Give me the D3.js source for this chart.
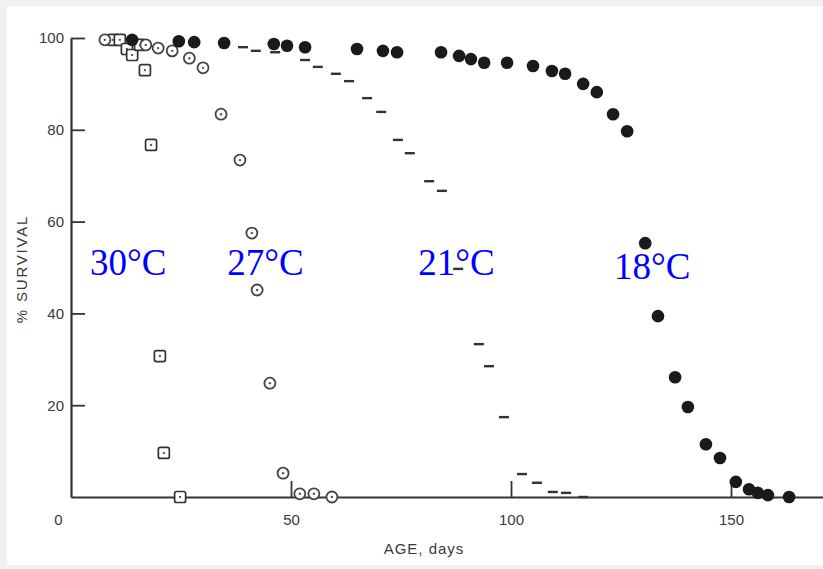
<!DOCTYPE html>
<html>
<head>
<meta charset="utf-8">
<script src="https://cdn.jsdelivr.net/npm/d3@7"></script>
<style>
  body { margin: 0; background: #f1f1f1; }
  svg { display: block; }
  .tick text { font-family: "Liberation Sans Narrow", "Liberation Sans", Arial, sans-serif; font-size: 15px; fill: #3a3a3a; }
</style>
</head>
<body>
<div id="graph"></div>
<script>
// survival (%) vs age (days) at four temperatures
const days30 = [9.5, 11.1, 12.7, 13.9, 15.7, 16.8, 18.2, 20.2, 21.1, 24.8];
const surv30 = [99.6, 99.6, 97.6, 96.3, 98.5, 93.0, 76.7, 30.7, 9.6, 0];

const days27 = [7.7, 17.0, 19.8, 23.0, 26.9, 30.0, 34.1, 38.4, 41.1, 42.3, 45.2, 48.2, 52.0, 55.2, 59.3];
const surv27 = [99.6, 98.5, 97.8, 97.2, 95.6, 93.5, 83.4, 73.4, 57.5, 45.1, 24.8, 5.2, 0.7, 0.7, 0];

const days21 = [39.1, 42.0, 46.4, 53.2, 56.1, 60.2, 63.2, 67.3, 70.5, 74.3, 77.0, 81.4, 84.3, 88.0,
                92.7, 95.0, 98.4, 102.5, 105.9, 109.5, 112.5, 116.4];
const surv21 = [98.0, 97.2, 96.9, 95.2, 93.7, 92.2, 90.6, 86.9, 83.9, 77.8, 74.9, 68.8, 66.7, 49.7,
                33.3, 28.5, 17.4, 5.0, 3.1, 1.1, 0.9, 0];

const days18 = [13.9, 24.5, 28.0, 34.8, 46.1, 49.1, 53.2, 65.0, 70.9, 74.1, 84.1, 88.2, 90.9, 93.9,
                99.1, 105.0, 109.3, 112.3, 116.4, 119.5, 123.2, 126.4, 130.5, 133.4, 137.3, 140.2,
                144.3, 147.5, 151.1, 154.1, 156.1, 158.4, 163.2];
const surv18 = [99.6, 99.3, 99.1, 98.9, 98.7, 98.3, 98.0, 97.6, 97.2, 96.9, 96.9, 96.1, 95.4, 94.6,
                94.6, 93.9, 92.8, 92.2, 90.0, 88.2, 83.4, 79.7, 55.3, 39.4, 26.1, 19.6,
                11.5, 8.5, 3.3, 1.7, 0.9, 0.4, 0];

const xTicks = [0, 50, 100, 150];
const yTicks = [20, 40, 60, 80, 100];
const tempLabels = ["30°C", "27°C", "21°C", "18°C"];
const labelAt = [[4.3, 48.4], [35.5, 48.4], [78.9, 48.4], [123.4, 47.5]];

const width = 823, height = 569;
const svg = d3.select("#graph").append("svg")
  .attr("width", width).attr("height", height);

svg.append("rect").attr("x", 7).attr("y", 6).attr("width", width - 7).attr("height", 559)
  .attr("fill", "#fff");

const x = d3.scaleLinear().domain([0, 171]).range([71, 823.4]);
const y = d3.scaleLinear().domain([0, 100]).range([497, 38]);

const zip = (a, b) => a.map((d, i) => [d, b[i]]);

// axes
const yAxis = svg.append("g")
  .attr("transform", "translate(71,0)")
  .call(d3.axisLeft(y).tickValues(yTicks).tickSize(-14).tickSizeOuter(0).tickPadding(7));
const xAxis = svg.append("g")
  .attr("transform", "translate(0,497)")
  .call(d3.axisBottom(x).tickValues(xTicks).tickSize(-16).tickSizeOuter(0).tickPadding(17));

[yAxis, xAxis].forEach(g => {
  g.select(".domain").attr("stroke", "#333").attr("stroke-width", 2.2);
  g.selectAll(".tick line").attr("stroke", "#333").attr("stroke-width", 1.8);
});
xAxis.selectAll(".tick").filter(d => d === 0).select("line").remove();
xAxis.selectAll(".tick").filter(d => d === 0).select("text").attr("dx", -13);

svg.append("text")
  .attr("transform", "translate(27,269) rotate(-90)")
  .attr("text-anchor", "middle")
  .attr("font-family", "Liberation Sans Narrow, Liberation Sans, Arial, sans-serif")
  .attr("font-size", 15).attr("letter-spacing", 1.8)
  .attr("fill", "#3a3a3a")
  .text("% SURVIVAL");

svg.append("text")
  .attr("x", 424).attr("y", 554)
  .attr("text-anchor", "middle")
  .attr("font-family", "Liberation Sans Narrow, Liberation Sans, Arial, sans-serif")
  .attr("font-size", 15).attr("letter-spacing", 1)
  .attr("fill", "#3a3a3a")
  .text("AGE, days");

// 30°C: open squares with centre dot
const sq = svg.append("g").selectAll("g").data(zip(days30, surv30)).join("g")
  .attr("transform", d => `translate(${x(d[0])},${y(d[1])})`);
sq.append("rect").attr("x", -5.5).attr("y", -5.5).attr("width", 11).attr("height", 11).attr("rx", 2)
  .attr("fill", "#fff").attr("stroke", "#333").attr("stroke-width", 1.7);
sq.append("rect").attr("x", -1).attr("y", -1).attr("width", 2).attr("height", 2).attr("fill", "#555");

// 27°C: open circles with centre dot
const oc = svg.append("g").selectAll("g").data(zip(days27, surv27)).join("g")
  .attr("transform", d => `translate(${x(d[0])},${y(d[1])})`);
oc.append("circle").attr("r", 5.5)
  .attr("fill", "#fff").attr("stroke", "#444").attr("stroke-width", 1.8);
oc.append("circle").attr("r", 1.2).attr("fill", "#555");

// 21°C: short dashes
svg.append("g").selectAll("rect").data(zip(days21, surv21)).join("rect")
  .attr("x", d => x(d[0]) - 5).attr("y", d => y(d[1]) - 1.2)
  .attr("width", 10).attr("height", 2.4)
  .attr("fill", "#333");

// 18°C: filled circles
svg.append("g").selectAll("circle").data(zip(days18, surv18)).join("circle")
  .attr("cx", d => x(d[0])).attr("cy", d => y(d[1])).attr("r", 6.3)
  .attr("fill", "#1a1a1a");

// temperature labels
svg.append("g").selectAll("text").data(tempLabels).join("text")
  .attr("x", (d, i) => x(labelAt[i][0]))
  .attr("y", (d, i) => y(labelAt[i][1]))
  .attr("font-family", "Liberation Serif, Times New Roman, serif")
  .attr("font-size", 37)
  .attr("fill", "#0000ff")
  .text(d => d);
</script>
</body>
</html>
